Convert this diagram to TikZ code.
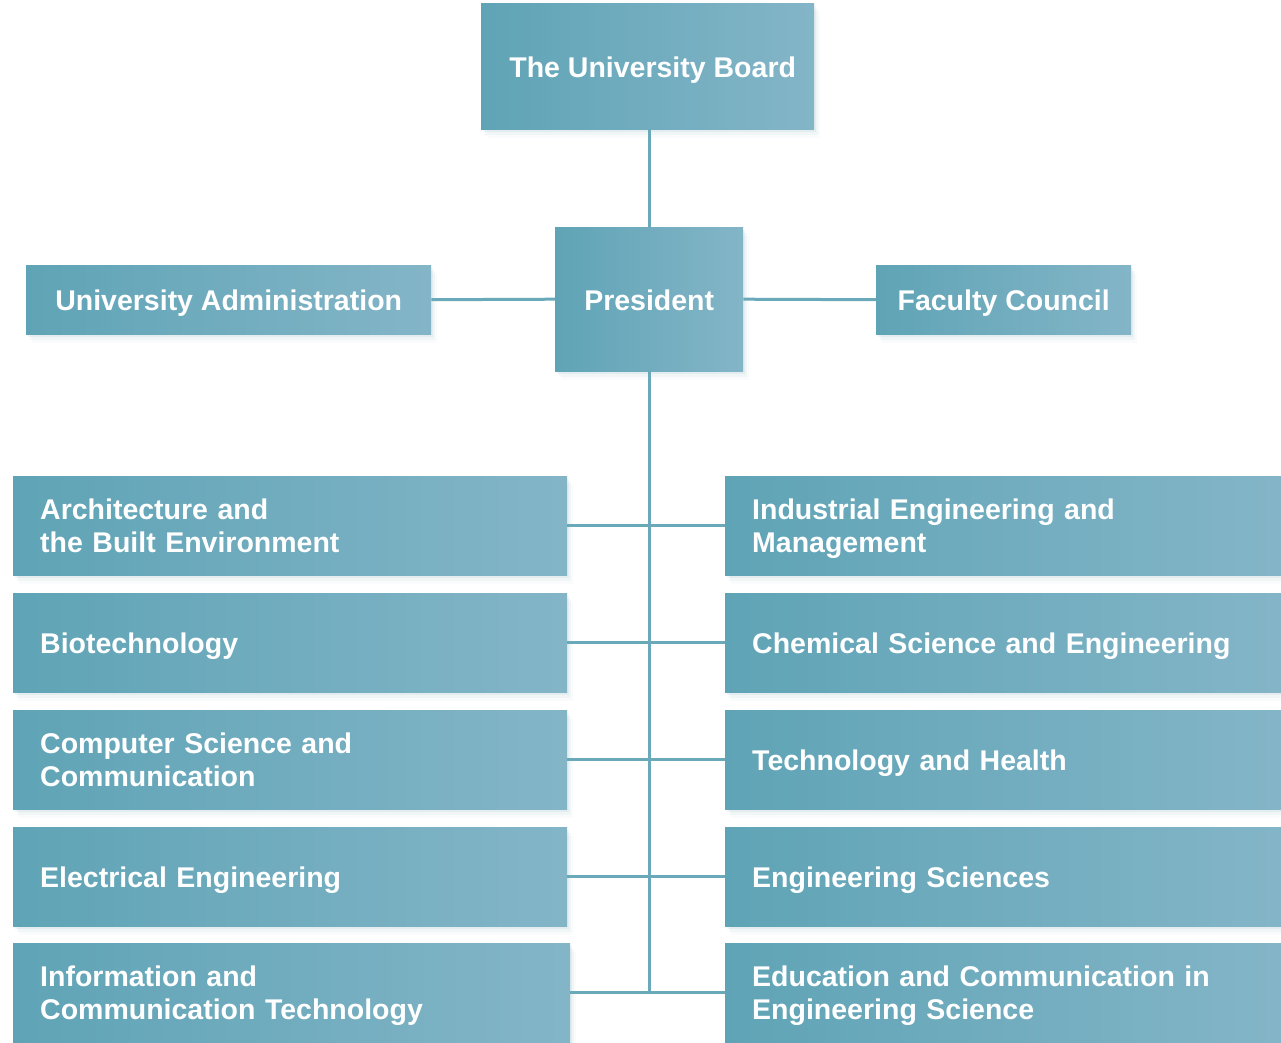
\documentclass[tikz,border=0pt]{standalone}
\usepackage{fontspec}
\setmainfont{Liberation Sans}
\usetikzlibrary{shadows}
\definecolor{boxL}{HTML}{5FA4B6}
\definecolor{boxR}{HTML}{83B5C7}
\definecolor{linec}{HTML}{69A9BA}
\definecolor{shad}{HTML}{6F9FAE}
\newcommand{\lastline}[1]{\raisebox{0pt}[\height][0pt]{#1}}
\tikzset{
  orgbox/.style={rectangle, left color=boxL, right color=boxR, text=white,
    font=\fontsize{28.5}{33}\selectfont\bfseries, inner ysep=0pt,
    drop shadow={shadow xshift=2pt, shadow yshift=-3pt, opacity=0.10, fill=shad},
    drop shadow={shadow xshift=4pt, shadow yshift=-6pt, opacity=0.07, fill=shad},
    drop shadow={shadow xshift=6pt, shadow yshift=-9pt, opacity=0.04, fill=shad}},
  oneline/.style={text height=22pt, text depth=0pt},
  topbox/.style={orgbox, oneline, inner xsep=0pt},
  dept/.style={orgbox, anchor=north west, align=left, inner xsep=27pt,
    minimum height=99pt},
  conn/.style={draw=linec, line width=3pt}
}
\begin{document}
\begin{tikzpicture}[x=1pt,y=-1pt]
\useasboundingbox (0,0) rectangle (1281,1042);
\node[topbox, minimum width=333pt, minimum height=126pt, anchor=north west] (board) at (481,3) {\hspace*{10pt}The University Board};
\node[topbox, minimum width=188pt, minimum height=144pt, anchor=north west] (pres) at (555,227) {President};
\node[topbox, minimum width=405pt, minimum height=69pt, anchor=north west] (admin) at (26,265) {University Administration};
\node[topbox, minimum width=255pt, minimum height=69pt, anchor=north west] (fac) at (876,265) {Faculty Council};

\node[dept, text width=500pt] (l1) at (13,476) {Architecture and\\\lastline{the Built Environment}};
\node[dept, oneline, text width=500pt] (l2) at (13,593) {Biotechnology};
\node[dept, text width=500pt] (l3) at (13,710) {Computer Science and\\\lastline{Communication}};
\node[dept, oneline, text width=500pt] (l4) at (13,827) {Electrical Engineering};
\node[dept, text width=503pt] (l5) at (13,943) {Information and\\\lastline{Communication Technology}};

\node[dept, text width=502pt] (r1) at (725,476) {Industrial Engineering and\\\lastline{Management}};
\node[dept, oneline, text width=502pt] (r2) at (725,593) {Chemical Science and Engineering};
\node[dept, oneline, text width=502pt] (r3) at (725,710) {Technology and Health};
\node[dept, oneline, text width=502pt] (r4) at (725,827) {Engineering Sciences};
\node[dept, text width=502pt] (r5) at (725,943) {Education and Communication in\\\lastline{Engineering Science}};

\draw[conn] (pres.north |- board.south) -- (pres.north);
\draw[conn] (admin.east) -- (pres.west);
\draw[conn] (pres.east) -- (fac.west);
\draw[conn] (pres.south) -- (pres.south |- l5.east);
\draw[conn] (l1.east) -- (r1.west);
\draw[conn] (l2.east) -- (r2.west);
\draw[conn] (l3.east) -- (r3.west);
\draw[conn] (l4.east) -- (r4.west);
\draw[conn] (l5.east) -- (r5.west);
\end{tikzpicture}
\end{document}
